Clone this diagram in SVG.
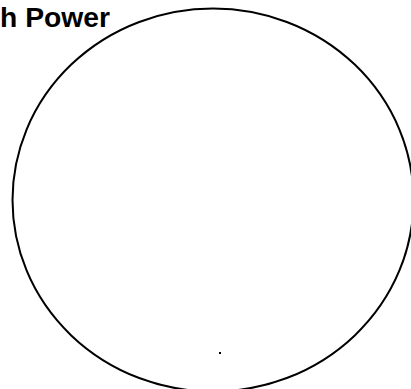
<svg xmlns="http://www.w3.org/2000/svg" width="411" height="389" viewBox="0 0 411 389">
  <style>
    .label { font-family: "Liberation Sans", "DejaVu Sans", sans-serif; font-weight: bold; font-size: 27px; fill: #000; }
    .outline { fill: none; stroke: #000; stroke-width: 2; }
  </style>
  <rect x="0" y="0" width="411" height="389" fill="#fff"/>
  <g id="label">
    <text class="label" x="0" y="27" textLength="110" lengthAdjust="spacingAndGlyphs">h Power</text>
  </g>
  <g id="circle">
    <ellipse class="outline" cx="213" cy="200" rx="200.5" ry="191.5"/>
  </g>
  <g id="dot">
    <rect x="219" y="352" width="2" height="2" fill="#000"/>
  </g>
  <g id="connectors"></g>
</svg>
